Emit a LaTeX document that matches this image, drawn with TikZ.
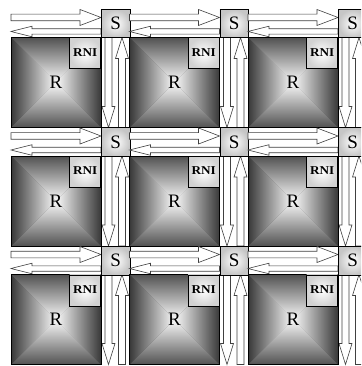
\documentclass[tikz,border=0pt]{standalone}
\usepackage{fontspec}
\setmainfont{Liberation Serif}
\usepackage{graphicx}

\colorlet{edgedark}{black!78}
\colorlet{edgemid}{black!68}
\colorlet{midlight}{white!98!black}

\tikzset{
  chan/.style={draw=black!75, fill=white, line width=0.6pt, line join=miter},
  box/.style={draw=black, line width=0.8pt},
  sbox/.style={box, inner color=white, outer color=gray!45, anchor=north west,
    minimum width=28.5pt, minimum height=28.5pt, inner sep=0pt,
    font=\fontsize{19}{19}\selectfont},
  rnibox/.style={box, inner color=white, outer color=gray!35, anchor=north east,
    minimum size=31pt, inner sep=0pt, font=\fontsize{12}{12}\selectfont\bfseries},
  rlbl/.style={inner sep=0pt, font=\fontsize{19}{19}\selectfont},
}

% hollow arrow along x: tail, head base, tip, centre, shaft half, head half
\newcommand{\harrow}[6]{%
  \draw[chan] (#1,#4-#5) -- (#2,#4-#5) -- (#2,#4-#6) -- (#3,#4)
    -- (#2,#4+#6) -- (#2,#4+#5) -- (#1,#4+#5) -- cycle;}
% same along y
\newcommand{\varrow}[6]{%
  \draw[chan] (#4-#5,#1) -- (#4-#5,#2) -- (#4-#6,#2) -- (#4,#3)
    -- (#4+#6,#2) -- (#4+#5,#2) -- (#4+#5,#1) -- cycle;}

\begin{document}
\begin{tikzpicture}[x=1pt, y=-1pt]
  \useasboundingbox (0,0) rectangle (361,366);
  \clip (0,0) rectangle (361,366);
  \foreach \i in {0,1,2}{
    \foreach \j in {0,1,2}{
      \pgfmathsetmacro{\xR}{11+118.5*\i}
      \pgfmathsetmacro{\xS}{101+118.5*\i}
      \pgfmathsetmacro{\yS}{9+118.5*\j}
      \pgfmathsetmacro{\yR}{37.5+118.5*\j}
      \pgfmathsetmacro{\yB}{127.5+118.5*\j}
      \pgfmathsetmacro{\xM}{(\xR+\xS)/2}
      \pgfmathsetmacro{\yM}{(\yR+\yB)/2}
      % links
      \harrow{\xR}{\xS-21}{\xS}{\yS+8.5}{3.3}{8}
      \harrow{\xS}{\xR+21}{\xR}{\yS+22.5}{2.7}{5.3}
      \varrow{\yR}{\yB-21}{\yB}{\xS+7.5}{3.5}{6.5}
      \varrow{\yB}{\yR+21}{\yR}{\xS+21}{3.5}{6.5}
      % router
      \fill[edgemid] (\xR,\yR) rectangle (\xS,\yB);
      \shade[top color=edgemid, bottom color=midlight] (\xR,\yR) -- (\xS,\yR) -- (\xM,\yM) -- cycle;
      \shade[bottom color=edgemid, top color=midlight] (\xR,\yB) -- (\xS,\yB) -- (\xM,\yM) -- cycle;
      \shade[left color=edgedark, right color=midlight] (\xR,\yR) -- (\xR,\yB) -- (\xM,\yM) -- cycle;
      \shade[right color=edgedark, left color=midlight] (\xS,\yR) -- (\xS,\yB) -- (\xM,\yM) -- cycle;
      \draw[box] (\xR,\yR) rectangle (\xS,\yB);
      \node[rlbl] (R-\i-\j) at (\xM,\yM) {R};
      \node[rnibox] (RNI-\i-\j) at (\xS,\yR) {\raisebox{2pt}{\scalebox{1.1}[1]{RNI}}};
      \node[sbox] (S-\i-\j) at (\xS,\yS) {S};
    }
  }
\end{tikzpicture}
\end{document}
